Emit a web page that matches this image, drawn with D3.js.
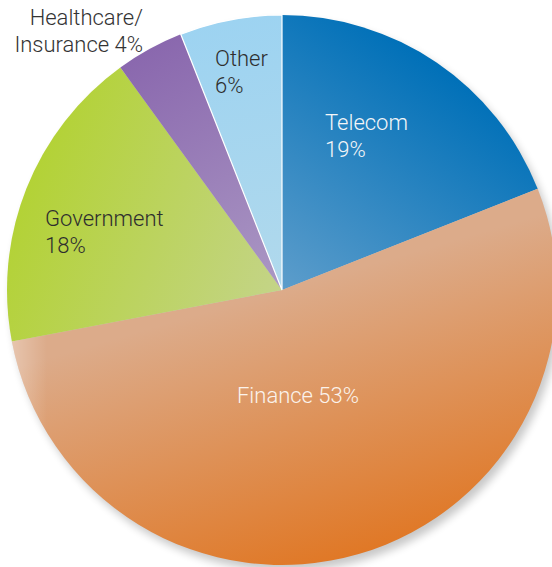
<!DOCTYPE html>
<html>
<head>
<meta charset="utf-8">
<script src="https://cdn.jsdelivr.net/npm/d3@7"></script>
<style>
  html, body { margin: 0; padding: 0; background: #fff; }
  svg { display: block; }
  text { font-family: Roboto, "Liberation Sans", Arial, sans-serif; font-weight: 300; font-size: 22px; }
</style>
</head>
<body>
<svg id="chart" width="552" height="567"></svg>
<script>
// Market share by sector (percent), clockwise from 12 o'clock
const sectors = ["Telecom", "Finance", "Government", "Healthcare/Insurance", "Other"];
const shares = [19, 53, 18, 4, 6];
const labelLines = [
  ["Telecom", "19%"],
  ["Finance 53%"],
  ["Government", "18%"],
  ["Healthcare/", "Insurance 4%"],
  ["Other", "6%"]
];

// Fill colours: rim colour and lighter hub colour for each slice
const rimColors = ["#0070b8", "#e07826", "#b3d236", "#8a68ae", "#9dd3f1"];
const hubColors = ["#5d9dcb", "#dcab8a", "#c4d488", "#ab98c4", "#b1d9ec"];
const labelColors = ["#f4f6f8", "#fbf3ec", "#2e2e2e", "#333333", "#2e2e2e"];

const W = 552, H = 567;
const cx = 282, cy = 290, R = 275;

const svg = d3.select("#chart");
const defs = svg.append("defs");

// soft drop shadow under the disc
const shadow = defs.append("filter").attr("id", "shadow")
  .attr("x", "-20%").attr("y", "-20%").attr("width", "140%").attr("height", "140%");
shadow.append("feGaussianBlur").attr("in", "SourceAlpha").attr("stdDeviation", 4).attr("result", "b");
shadow.append("feOffset").attr("in", "b").attr("dx", 4).attr("dy", 6).attr("result", "o");
shadow.append("feComponentTransfer").attr("in", "o")
  .append("feFuncA").attr("type", "linear").attr("slope", 0.22);

const pie = d3.pie().value(d => d).sort(null).startAngle(0).endAngle(2 * Math.PI);
const arcs = pie(shares);
const arc = d3.arc().innerRadius(0).outerRadius(R);

// per-slice gradient running from the hub out to the rim along the slice's bisector
arcs.forEach((a, i) => {
  const mid = (a.startAngle + a.endAngle) / 2;
  const g = defs.append("linearGradient").attr("id", "grad" + i)
    .attr("gradientUnits", "userSpaceOnUse")
    .attr("x1", 0).attr("y1", 0)
    .attr("x2", R * Math.sin(mid)).attr("y2", -R * Math.cos(mid));
  g.append("stop").attr("offset", "0%").attr("stop-color", hubColors[i]);
  g.append("stop").attr("offset", "100%").attr("stop-color", rimColors[i]);
});

// pale sheen along the left rim
const sheen = defs.append("linearGradient").attr("id", "sheen")
  .attr("gradientUnits", "userSpaceOnUse")
  .attr("x1", -R).attr("y1", 0).attr("x2", -R + 40).attr("y2", 0);
sheen.append("stop").attr("offset", "0%").attr("stop-color", "#fff").attr("stop-opacity", 0.35);
sheen.append("stop").attr("offset", "100%").attr("stop-color", "#fff").attr("stop-opacity", 0);

const g = svg.append("g").attr("transform", `translate(${cx},${cy})`);

g.append("circle").attr("r", R).attr("fill", "#888").attr("filter", "url(#shadow)");

g.selectAll("path.slice").data(arcs).join("path")
  .attr("class", "slice")
  .attr("d", arc)
  .attr("fill", (d, i) => `url(#grad${i})`)
  .attr("stroke", (d, i) => sectors[i] === "Other" ? "#ffffff" : "none")
  .attr("stroke-width", 1.2);

g.append("path").attr("d", arc(arcs[1])).attr("fill", "url(#sheen)");

// label anchors (pixel positions in the svg) and alignment
const labelPos = [
  { x: 325, y: 130, anchor: "start" },
  { x: 298, y: 403, anchor: "middle" },
  { x: 45, y: 226, anchor: "start" },
  { x: 143, y: 25, anchor: "end" },
  { x: 215, y: 66, anchor: "start" }
];
const lineGap = 27;

labelLines.forEach((lines, i) => {
  const p = labelPos[i];
  const t = svg.append("text")
    .attr("x", p.x).attr("y", p.y)
    .attr("text-anchor", p.anchor)
    .attr("fill", labelColors[i]);
  lines.forEach((s, k) => {
    t.append("tspan").attr("x", p.x).attr("y", p.y + k * lineGap).text(s);
  });
});
</script>
</body>
</html>
